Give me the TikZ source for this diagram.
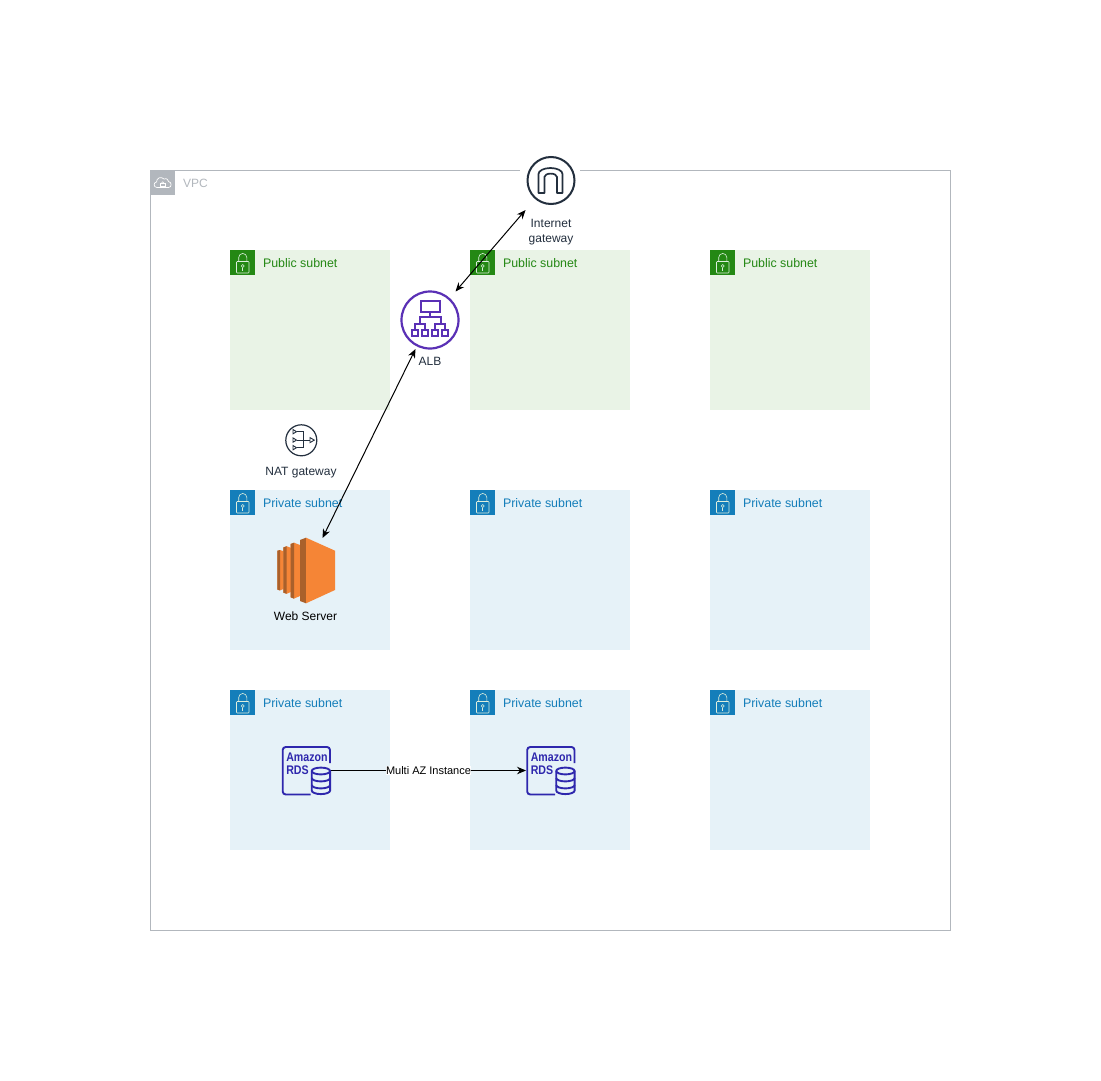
\documentclass[tikz,border=0pt]{standalone}
\usepackage{fontspec}
\setmainfont{Liberation Sans}
\usetikzlibrary{arrows.meta}
\definecolor{pubgreen}{HTML}{248814}
\definecolor{pubfill}{HTML}{E9F3E6}
\definecolor{privblue}{HTML}{147EBA}
\definecolor{privfill}{HTML}{E6F2F8}
\definecolor{vpcgrey}{HTML}{B2B7BD}
\definecolor{lockline}{HTML}{DDEEDD}
\definecolor{awsdark}{HTML}{232F3E}
\definecolor{albpurple}{HTML}{5A30B5}
\definecolor{rdsblue}{HTML}{2E27AD}
\definecolor{ecorange}{HTML}{F58536}
\definecolor{ecdark}{HTML}{A9602B}
\tikzset{
  x=1pt,y=-1pt,
  every node/.style={inner sep=0pt,outer sep=0pt,font=\fontsize{12}{15}\selectfont},
  lockglyph/.pic={
    \draw[lockline,line width=.6,rounded corners=.8] (6.5,11.5) rectangle (19,23);
    \draw[lockline,line width=.6] (8.7,11.5) -- (8.7,7.5) arc[start angle=180,end angle=360,radius=4.05] -- (16.8,11.5);
    \draw[lockline,line width=.6] (12.75,16) circle[radius=1.5];
    \draw[lockline,line width=.6] (12.75,17.5) -- (12.75,20.5);
  },
  pubbox/.style={fill=pubfill,minimum size=160,anchor=north west},
  privbox/.style={fill=privfill,minimum size=160,anchor=north west},
  pubtag/.style={fill=pubgreen,minimum size=25,anchor=north west},
  privtag/.style={fill=privblue,minimum size=25,anchor=north west},
  pubtext/.style={text=pubgreen,anchor=west,font=\fontsize{12.4}{15}\selectfont},
  privtext/.style={text=privblue,anchor=west,font=\fontsize{12.4}{15}\selectfont},
  iconlabel/.style={text=awsdark,align=center},
  link/.style={black,line width=1,{Stealth[length=9,width=7.5]}-{Stealth[length=9,width=7.5]}},
  oneway/.style={black,line width=1,-{Stealth[length=9,width=7.5]}},
  rdsline/.style={rdsblue,line width=1.9},
  rdsicon/.pic={
    \draw[rdsline,rounded corners=3] (47.3,16) -- (47.3,0) -- (0,0) -- (0,47.5) -- (28,47.5);
    \fill[privfill] (29,20.5) rectangle (47.3,48);
    \draw[rdsline] (29,24) arc[start angle=180,end angle=360,x radius=9.2,y radius=3.4]
       -- (47.4,43.5) arc[start angle=0,end angle=180,x radius=9.2,y radius=3.6] -- cycle;
    \draw[rdsline] (29,24) arc[start angle=180,end angle=0,x radius=9.2,y radius=3.4];
    \draw[rdsline] (29,31) arc[start angle=180,end angle=0,x radius=9.2,y radius=3.4];
    \draw[rdsline] (29,38) arc[start angle=180,end angle=0,x radius=9.2,y radius=3.4];
    \node[text=rdsblue,xscale=.85,anchor=base west,font=\fontsize{12.5}{12}\selectfont\bfseries] at (3.6,14.5) {Amazon};
    \node[text=rdsblue,xscale=.85,anchor=base west,font=\fontsize{12.5}{12}\selectfont\bfseries] at (3.6,27.5) {RDS};
  },
}
\begin{document}
\begin{tikzpicture}
\useasboundingbox[fill=white] (0,0) rectangle (1101,1081);

% VPC
\node[draw=vpcgrey,line width=1,minimum width=800,minimum height=760,anchor=north west] (vpc) at (150.5,170.5) {};
\node[fill=vpcgrey,minimum size=25,anchor=north west] (vpctag) at (150,170) {};
\begin{scope}[shift={(150,170)}]
  \draw[white,line width=.7,line join=round] (7,17.5) .. controls (3.5,17.5) and (3,12.5) .. (6.5,12)
     .. controls (6.5,8) and (11,6) .. (14,9) .. controls (17,8) and (18.5,10) .. (18.5,11.5)
     .. controls (22,12) and (22,17.5) .. (18.5,17.5) -- cycle;
  \draw[white,line width=.6] (10.5,13) rectangle (15,16.5);
  \draw[white,line width=.6] (11.5,13) arc[start angle=180,end angle=360,radius=1.25];
\end{scope}
\node[text=vpcgrey,anchor=west] (vpctext) at (183,183) {VPC};

% subnets
\foreach \nm/\px in {1/230,2/470,3/710}{
  \node[pubbox] (pub\nm) at (\px,250) {};
  \node[privbox] (priva\nm) at (\px,490) {};
  \node[privbox] (privb\nm) at (\px,690) {};
  \node[pubtag] (pubtag\nm) at (\px,250) {};
  \node[privtag] (privatag\nm) at (\px,490) {};
  \node[privtag] (privbtag\nm) at (\px,690) {};
  \pic at (\px,250) {lockglyph};
  \pic at (\px,490) {lockglyph};
  \pic at (\px,690) {lockglyph};
  \node[pubtext] (pubtext\nm) at (\px+33,263) {Public subnet};
  \node[privtext] (privatext\nm) at (\px+33,503) {Private subnet};
  \node[privtext] (privbtext\nm) at (\px+33,703) {Private subnet};
}

% Internet gateway
\node[fill=white,minimum width=60,minimum height=8] (igwgap) at (550,170.5) {};
\node[circle,draw=awsdark,line width=2,fill=white,minimum size=47] (igw) at (551,180.5) {};
\draw[awsdark,line width=1.7,line join=round] (538.5,193) -- (538.5,174) arc[start angle=180,end angle=360,x radius=12,y radius=6]
   -- (562.5,193) -- (557,193) -- (557,177) arc[start angle=0,end angle=-180,x radius=6.3,y radius=3.4] -- (544.4,193) -- cycle;
\node[iconlabel] (igwtext) at (551,232) {Internet\\gateway};
\coordinate (igwport) at (525.5,210);

% ALB
\node[circle,draw=albpurple,line width=2.2,fill=white,minimum size=57] (alb) at (430,320) {};
\begin{scope}[albpurple,line width=2]
  \draw (420.5,301) rectangle (440,311.5);
  \draw (430,311.5) -- (430,317);
  \draw (419.5,323) -- (419.5,317) -- (440.5,317) -- (440.5,323);
  \draw (415,329) -- (415,323.5) -- (425,323.5) -- (425,329);
  \draw (435,329) -- (435,323.5) -- (445,323.5) -- (445,329);
  \draw (412,329.5) rectangle (418,335.5);
  \draw (422,329.5) rectangle (428,335.5);
  \draw (432,329.5) rectangle (438,335.5);
  \draw (442,329.5) rectangle (448,335.5);
\end{scope}
\node[iconlabel] (albtext) at (430,361) {ALB};
\coordinate (albtop) at (455.5,291.5);
\coordinate (albbottom) at (415.5,349);

% NAT gateway
\node[circle,draw=awsdark,line width=1.2,fill=white,minimum size=31] (nat) at (301.3,440.3) {};
\begin{scope}[awsdark,line width=.9]
  \draw (293,429.5) -- (296.5,431.7) -- (293,433.8) -- cycle;
  \draw (293,437.9) -- (296.5,440.1) -- (293,442.2) -- cycle;
  \draw (293,445.5) -- (296.5,447.7) -- (293,449.8) -- cycle;
  \draw (296.5,431.7) -- (303,431.7) -- (303,447.7) -- (296.5,447.7);
  \draw (296.5,440.1) -- (310,440.1);
  \draw (310,437.6) -- (314.3,440.1) -- (310,442.6) -- cycle;
\end{scope}
\node[iconlabel] (nattext) at (301,473) {NAT gateway};

% EC2
\fill[ecorange] (277.3,550.8) -- (280,550) -- (283.5,551.2) -- (283.5,589) -- (280,590.4) -- (277.3,589.6) -- cycle;
\fill[ecdark] (277.3,550.8) -- (280,550) -- (280,590.4) -- (277.3,589.6) -- cycle;
\fill[ecorange] (283.3,547.5) -- (286.7,546.2) -- (290.8,547.8) -- (290.8,592) -- (286.7,593.8) -- (283.3,592.6) -- cycle;
\fill[ecdark] (283.3,547.5) -- (286.7,546.2) -- (286.7,593.8) -- (283.3,592.6) -- cycle;
\fill[ecorange] (290.7,544) -- (294,542.7) -- (300,545) -- (300,596) -- (294,598.6) -- (290.7,597.3) -- cycle;
\fill[ecdark] (290.7,544) -- (294,542.7) -- (294,598.6) -- (290.7,597.3) -- cycle;
\fill[ecdark] (300,540) -- (306,537.7) -- (306,603.3) -- (300,601) -- cycle;
\fill[ecorange] (306,537.7) -- (335,550.7) -- (335,590) -- (306,603.3) -- cycle;
\node[text=black] (ectext) at (305.5,616) {Web Server};
\coordinate (ecport) at (322.5,538);

% RDS
\pic at (282.7,747) {rdsicon};
\pic at (527.2,747) {rdsicon};
\coordinate (rdsa) at (331,770.5);
\coordinate (rdsb) at (526,770.5);

% connectors
\draw[link] (igwport) -- (albtop);
\draw[link] (albbottom) -- (ecport);
\draw[oneway] (rdsa) -- (rdsb) node[midway,fill=white,text=black,font=\fontsize{11}{13}\selectfont] (multiaz) {Multi AZ Instance};
\end{tikzpicture}
\end{document}
